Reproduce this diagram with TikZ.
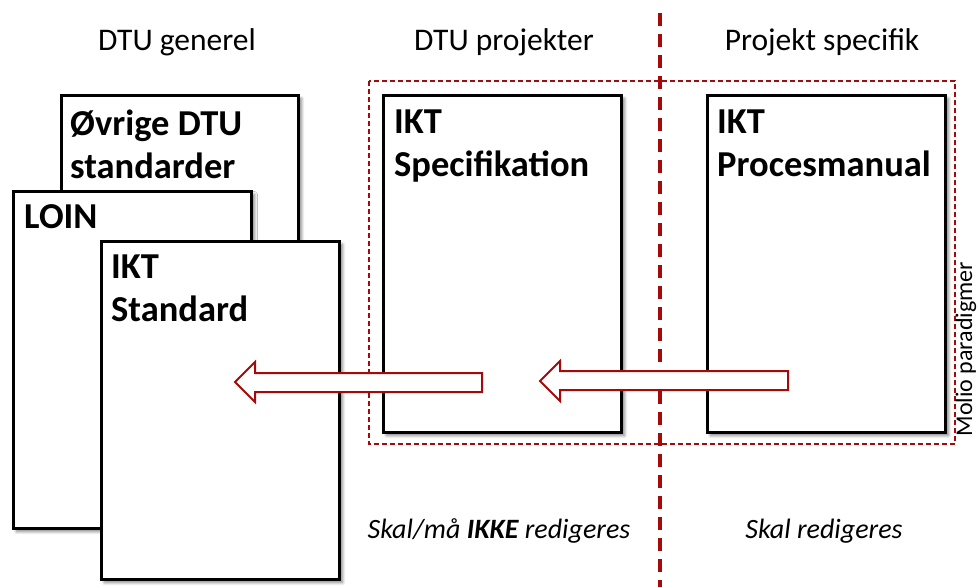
\documentclass[tikz,border=0pt]{standalone}
\usepackage{fontspec}
\setmainfont{Carlito}
\usetikzlibrary{calc,shadows.blur}
\definecolor{dred}{RGB}{165,10,10}
\tikzset{
  docbox/.style={draw=black, line width=3pt, fill=white, rectangle, inner sep=0pt, anchor=north west,
    blur shadow={shadow xshift=3pt, shadow yshift=-3pt, shadow blur steps=6, shadow opacity=50, shadow blur radius=3pt}},
  boxtext/.style={inner sep=0pt, anchor=base west, align=left, font=\fontsize{36.5}{43}\selectfont\bfseries},
  header/.style={inner sep=0pt, anchor=base, font=\fontsize{31.5}{36}\selectfont},
  foot/.style={inner sep=0pt, anchor=base, font=\fontsize{28}{34}\selectfont\itshape},
  blockarrow/.style={draw=dred, line width=2pt, fill=white, line join=miter},
  zone/.style={draw=dred, line width=1.3pt, dash pattern=on 5pt off 3pt},
  divider/.style={draw=dred, line width=3.5pt, dash pattern=on 13pt off 8pt}
}
\begin{document}
\begin{tikzpicture}[x=1pt, y=-1pt]
\useasboundingbox (0,0) rectangle (979,587);
% headers
\node[header] (h1) at (177,50) {DTU generel};
\node[header] (h2) at (504,50) {DTU projekter};
\node[header] (h3) at (822,50) {Projekt specifik};
% left stack
\node[docbox, minimum width=237pt, minimum height=376pt] (ovr) at (60,94) {};
\node[boxtext] (tovr) at ($(ovr.north west)+(10,84)$) {Øvrige DTU\\standarder};
\node[docbox, minimum width=238pt, minimum height=337pt] (loin) at (12,190) {};
\node[boxtext] (tloin) at ($(loin.north west)+(12,38)$) {LOIN};
\node[docbox, minimum width=238pt, minimum height=338pt] (std) at (100,240) {};
\node[boxtext] (tstd) at ($(std.north west)+(11,81)$) {IKT\\Standard};
% zone
\draw[zone] (369,81) rectangle (955,444);
\node[docbox, minimum width=238pt, minimum height=337pt] (spec) at (382,94) {};
\node[boxtext] (tspec) at ($(spec.north west)+(12,82)$) {IKT\\Specifikation};
\node[docbox, minimum width=238pt, minimum height=337pt] (proc) at (706,94) {};
\node[boxtext] (tproc) at ($(proc.north west)+(11,82)$) {IKT\\Procesmanual};
% divider
\coordinate (dtop) at (660,13);
\coordinate (dbot) at (660,587);
\draw[divider] (dtop) -- (dbot);
% block arrows
\draw[blockarrow] (235,382) -- (255,362) -- (255,373) -- (482,373) -- (482,392) -- (255,392) -- (255,402) -- cycle;
\draw[blockarrow] (540,381) -- (560,361) -- (560,371) -- (788,371) -- (788,390) -- (560,390) -- (560,401) -- cycle;
% footer
\node[foot] (f1) at (499,538) {Skal/må \textbf{IKKE} redigeres};
\node[foot] (f2) at (824,538) {Skal redigeres};
\node[inner sep=0pt, anchor=base, rotate=90, font=\fontsize{24}{28}\selectfont] (molio) at (972,349) {Molio paradigmer};
\end{tikzpicture}
\end{document}
